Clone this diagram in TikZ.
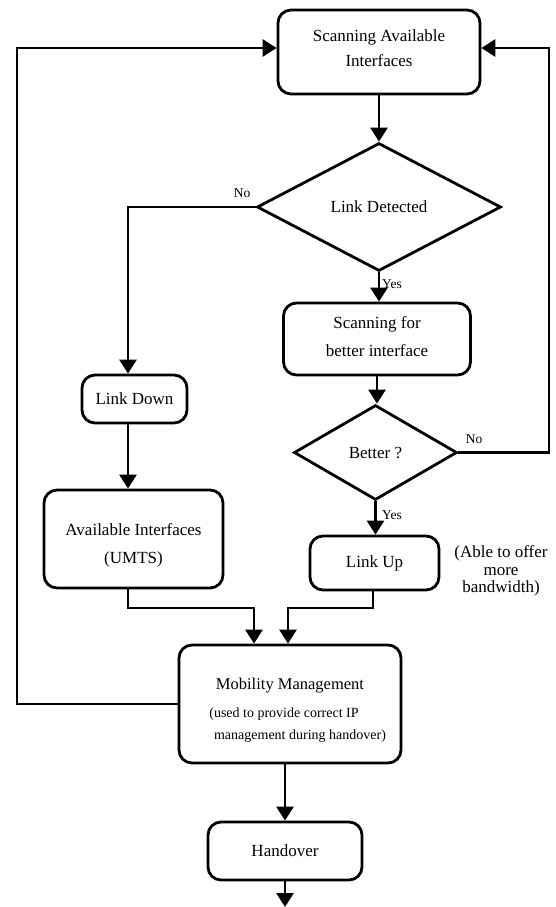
\documentclass[tikz,border=0pt]{standalone}
\usepackage{fontspec}
\setmainfont{Liberation Serif}
\usetikzlibrary{shapes.geometric,arrows.meta}
\begin{document}
\begin{tikzpicture}[x=1pt,y=-1pt,
  box/.style={draw,line width=2.8pt,rounded corners=13pt,inner sep=0pt,align=center,
    font=\fontsize{17}{28}\selectfont},
  dia/.style={draw,diamond,line width=2.8pt,inner sep=0pt,font=\fontsize{17}{20}\selectfont},
  conn/.style={line width=2.8pt,-{Triangle[width=17pt,length=14pt]}},
  lab/.style={font=\fontsize{13.5}{16}\selectfont,inner sep=0pt}]
\useasboundingbox (0,0) rectangle (555,907);

% nodes
\node[box,minimum width=202pt,minimum height=84pt,font=\fontsize{17}{25}\selectfont] (scan) at (379,52)
  {Scanning Available\\Interfaces\\[-18pt]\mbox{}};
\node[dia,minimum width=244pt,minimum height=128pt] (ld) at (379,207) {Link Detected};
\node[box,minimum width=187pt,minimum height=72pt] (sf) at (377,339)
  {Scanning for\\better interface\\[-24pt]\mbox{}};
\node[dia,minimum width=163pt,minimum height=95pt] (bt) at (375.5,452.5) {Better ?};
\node[box,minimum width=105pt,minimum height=48pt] (dn) at (134.5,399) {Link Down};
\node[box,minimum width=179pt,minimum height=98pt] (av) at (133.5,539)
  {\mbox{}\\[-4pt]Available Interfaces\\(UMTS)};
\node[box,minimum width=129pt,minimum height=54pt] (up) at (374.5,563) {Link Up};
\node[align=center,inner sep=0pt,font=\fontsize{17}{17.5}\selectfont] (able) at (501,571)
  {(Able to offer\\more\\bandwidth)};
\node[box,minimum width=222pt,minimum height=118pt,font=\fontsize{14}{22}\selectfont] (mob) at (290,704)
  {\fontsize{16.5}{18}\selectfont\rule{0pt}{25pt}Mobility Management\\[6pt]
   \fontsize{14}{22}\selectfont (used to provide correct IP\hspace{12pt}\mbox{}\\
   \fontsize{14}{22}\selectfont \hspace{20pt}management during handover)};
\node[box,minimum width=154pt,minimum height=58pt] (ho) at (285,851) {Handover};

\coordinate (xl) at (128,0);
\coordinate (topL) at (17,48);
\coordinate (topR) at (549,48);
\coordinate (ym) at (0,608);
\coordinate (xa) at (254,0);
\coordinate (xb) at (288,0);
\coordinate (xu) at (373,0);
\coordinate (bot) at (285,907);

% connectors
\draw[conn] (scan.south -| ld.north) -- (ld.north);
\draw[conn] (ld.west) -| (dn.north -| xl);
\draw[conn] (ld.south) -- (ld.south |- sf.north);
\draw[conn] (sf.south) -- (sf.south |- bt.north);
\draw[conn] (bt.south) -- (bt.south |- up.north);
\draw[conn] (dn.south -| xl) -- (av.north -| xl);
\draw[conn] (av.south -| xl) |- (ym -| xa) -- (mob.north -| xa);
\draw[conn] (up.south -| xu) |- (ym -| xb) -- (mob.north -| xb);
\draw[conn] (bt.east) -| (topR) -- (scan.east |- topR);
\draw[conn] (mob.west) -| (topL) -- (scan.west |- topL);
\draw[conn] (mob.south -| ho.north) -- (ho.north);
\draw[conn] (ho.south) -- (bot);

% labels
\node[lab] (no1) at (242,193) {No};
\node[lab,anchor=west] (yes1) at (382,284) {Yes};
\node[lab] (no2) at (474,439) {No};
\node[lab,anchor=west] (yes2) at (382,515) {Yes};
\end{tikzpicture}
\end{document}
